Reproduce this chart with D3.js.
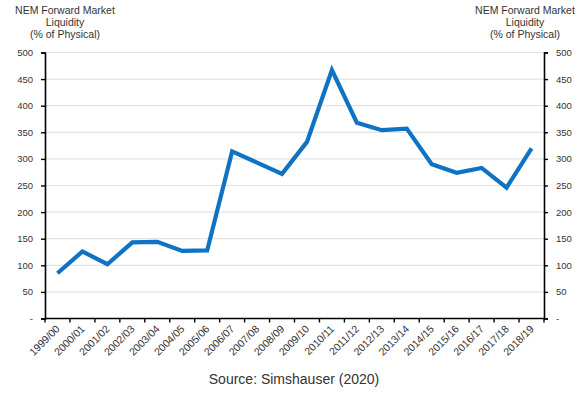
<!DOCTYPE html>
<html><head><meta charset="utf-8">
<script src="https://cdn.jsdelivr.net/npm/d3@7"></script>
<style>
body{margin:0;background:#fff;}
text{font-family:"Liberation Sans",Arial,sans-serif;fill:#333;}
</style></head>
<body><svg id="c" width="584" height="396"></svg>
<script>
const categories = ["1999/00","2000/01","2001/02","2002/03","2003/04","2004/05","2005/06","2006/07","2007/08","2008/09","2009/10","2010/11","2011/12","2012/13","2013/14","2014/15","2015/16","2016/17","2017/18","2018/19"];
const liquidity = [85,126,102,143,144,127,128,314,293,272,332,467,368,354,357,290,274,283,246,320];
const yTicks = [0,50,100,150,200,250,300,350,400,450,500];
const axisTitle = ["NEM Forward Market","Liquidity","(% of Physical)"];
const sourceText = "Source: Simshauser (2020)";

const svg = d3.select("#c");
const L = 45, R = 544, T = 52.5, B = 318.5;
const x = d3.scaleBand().domain(categories).range([L, R]);
const y = d3.scaleLinear().domain([0, 500]).range([B, T]);
const fmt = d => d === 0 ? "-" : d;

// gridlines
svg.append("g").selectAll("line").data(yTicks.filter(d => d > 0)).join("line")
  .attr("x1", L).attr("x2", R).attr("y1", d => y(d)).attr("y2", d => y(d))
  .attr("stroke", "#e3e3e3").attr("stroke-width", 1.2);

// left axis
const gl = svg.append("g").attr("transform", `translate(${L},0)`)
  .call(d3.axisLeft(y).tickValues(yTicks).tickFormat(fmt).tickSize(4).tickPadding(8));
// right axis
const gr = svg.append("g").attr("transform", `translate(${R},0)`)
  .call(d3.axisRight(y).tickValues(yTicks).tickFormat(fmt).tickSize(4).tickPadding(8));
[gl, gr].forEach(g => {
  g.select(".domain").attr("stroke", "#000").attr("stroke-width", 1.6);
  g.selectAll(".tick line").attr("stroke", "#000").attr("stroke-width", 1.4);
  g.selectAll(".tick text").attr("font-size", 9.5).attr("fill", "#333")
    .style("font-family", "'Liberation Sans', Arial, sans-serif");
});

// bottom axis with ticks at band boundaries
const gb = svg.append("g").attr("transform", `translate(0,${B})`);
gb.append("line").attr("x1", L).attr("x2", R).attr("stroke", "#000").attr("stroke-width", 1.6);
const bounds = categories.map(c => x(c)).concat([x(categories[categories.length-1]) + x.bandwidth()]);
gb.selectAll("line.t").data(bounds).join("line").attr("class","t")
  .attr("x1", d => d).attr("x2", d => d).attr("y1", 0).attr("y2", 4)
  .attr("stroke", "#000").attr("stroke-width", 1.4);
gb.selectAll("text").data(categories).join("text")
  .attr("transform", d => `translate(${x(d) + x.bandwidth()/2 + 3},11) rotate(-45)`)
  .attr("text-anchor", "end").attr("font-size", 10.5).text(d => d);

// line
const line = d3.line().x((d, i) => x(categories[i]) + x.bandwidth()/2).y(d => y(d));
svg.append("path").datum(liquidity).attr("d", line)
  .attr("fill", "none").attr("stroke", "#0f72c2").attr("stroke-width", 4.2)
  .attr("stroke-linejoin", "miter");

// axis titles
[65, 525].forEach(cx => {
  svg.append("g").selectAll("text").data(axisTitle).join("text")
    .attr("x", cx).attr("y", (d, i) => 13.5 + i * 12).attr("text-anchor", "middle")
    .attr("font-size", 10.5).text(d => d);
});

// source
svg.append("text").attr("x", 294).attr("y", 384).attr("text-anchor", "middle")
  .attr("font-size", 14).attr("fill", "#222").text(sourceText);
</script></body></html>
